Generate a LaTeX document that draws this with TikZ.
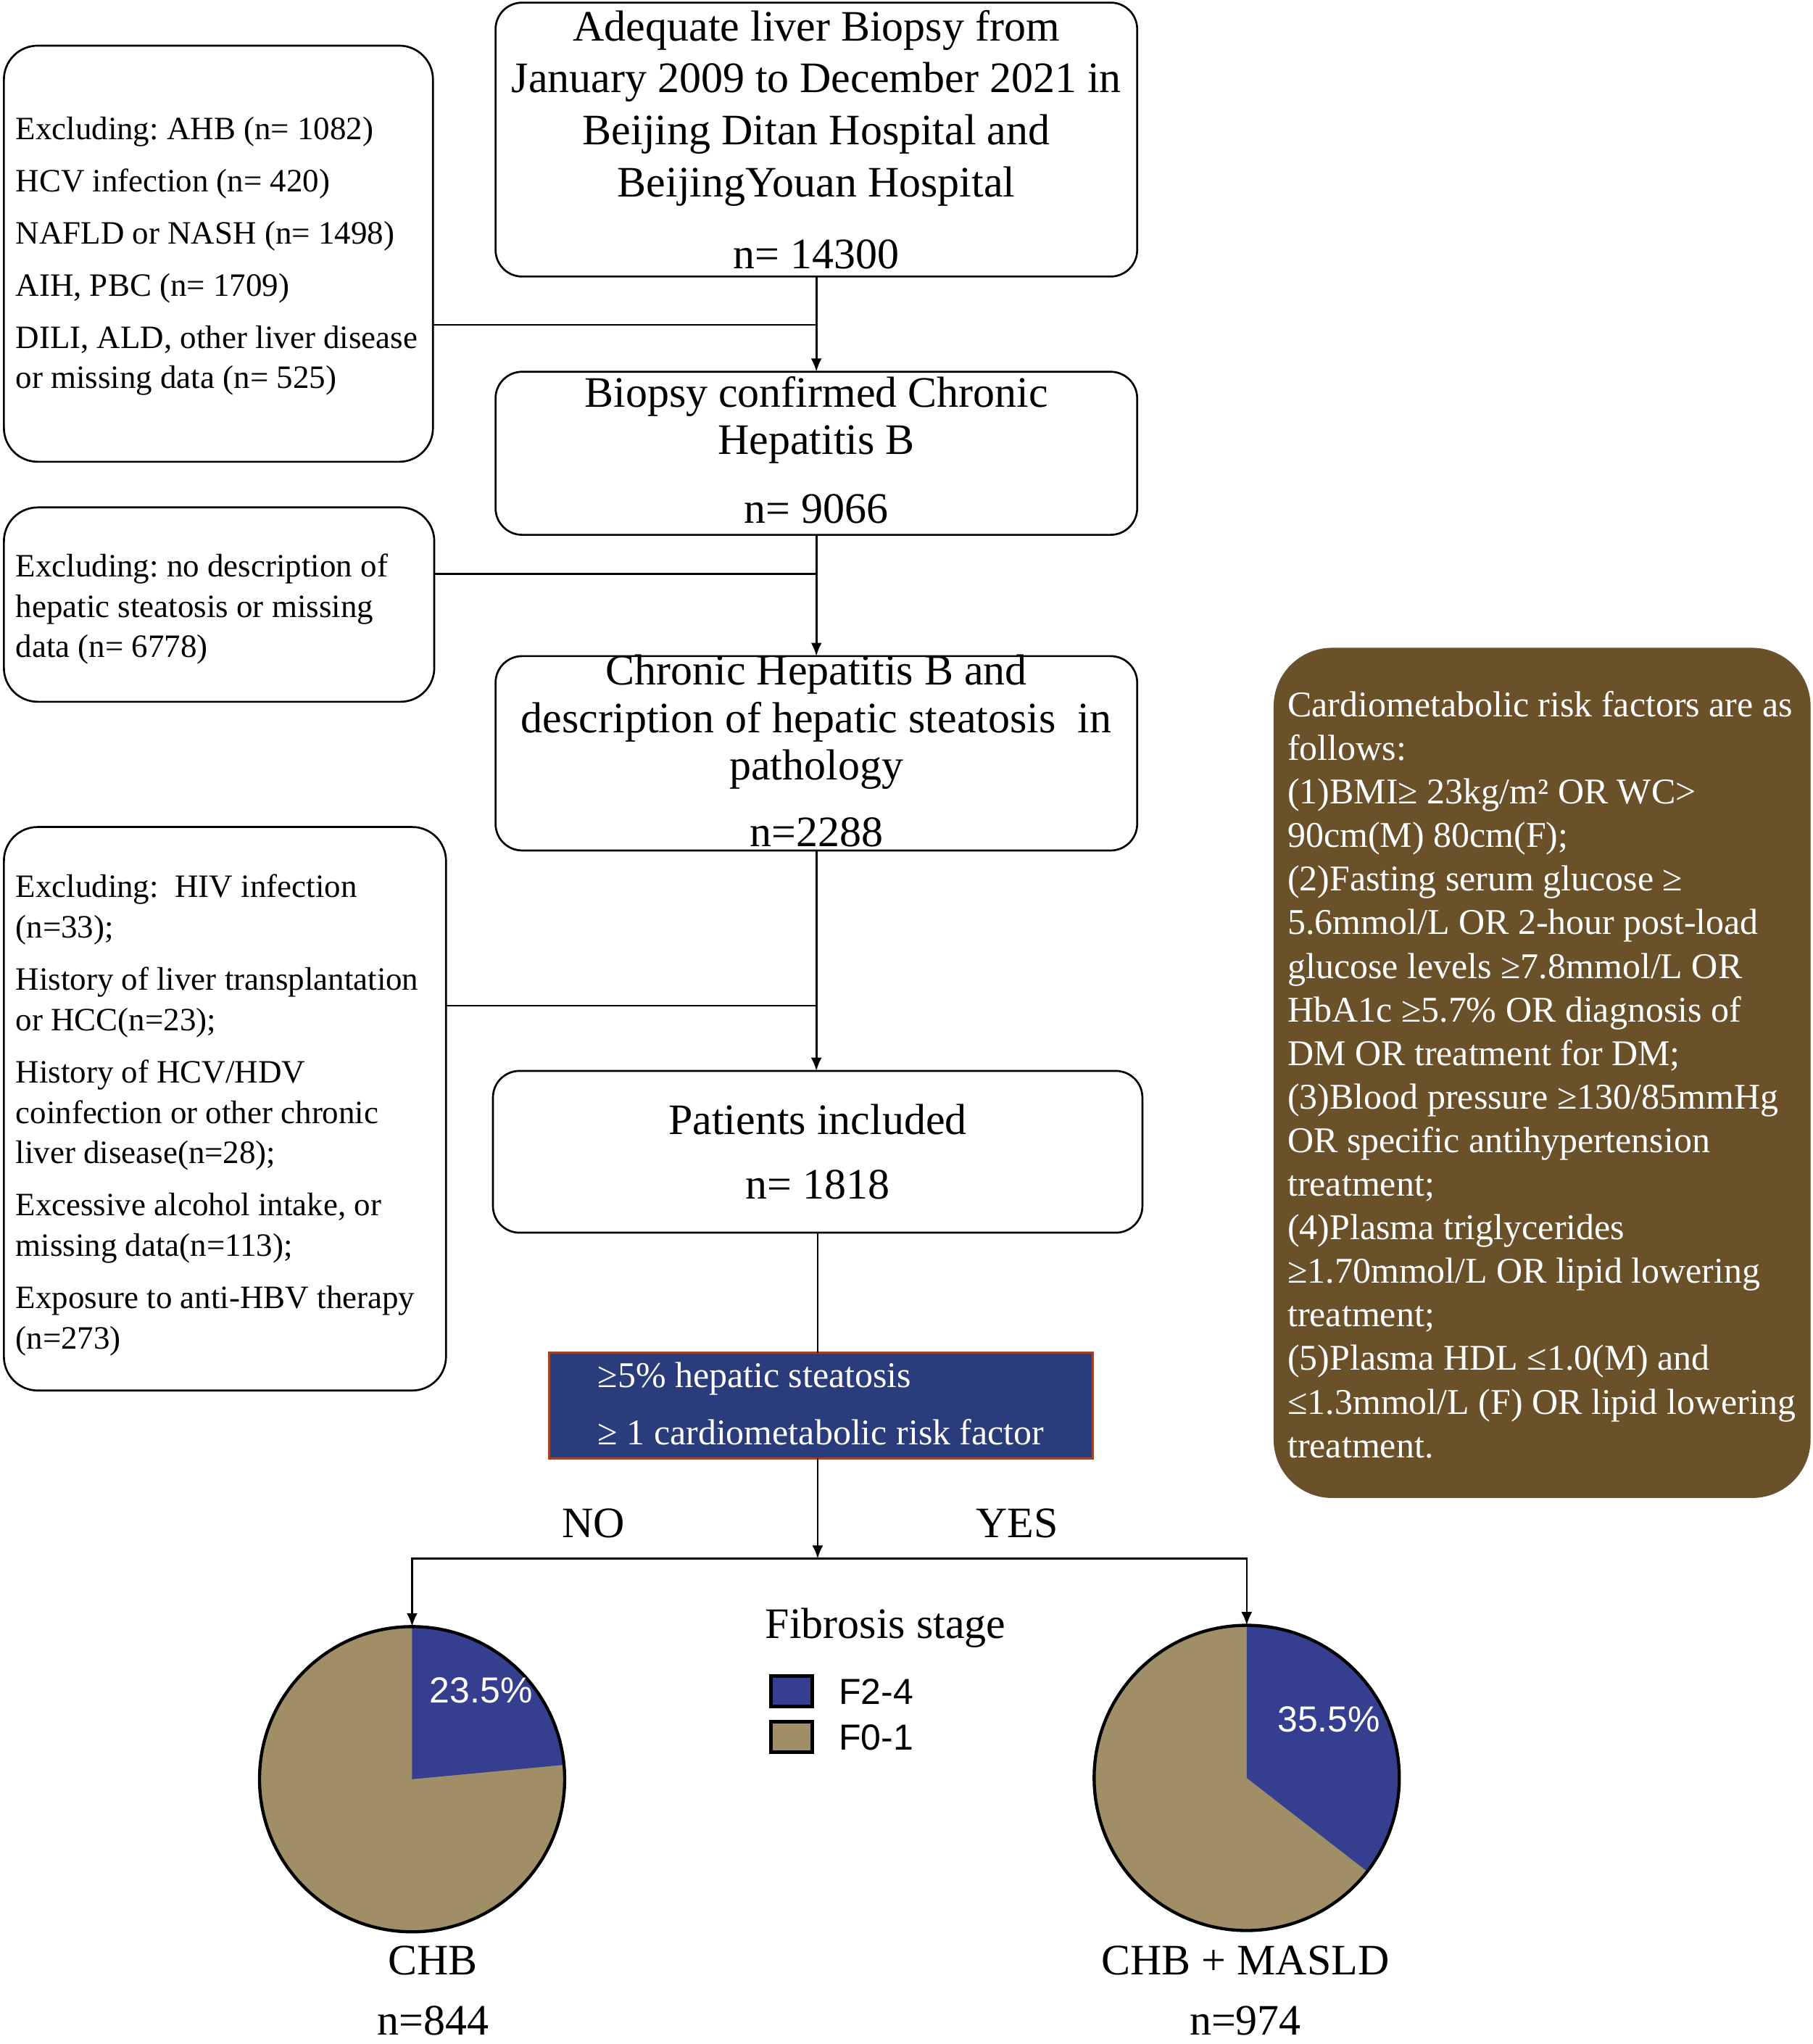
\documentclass[tikz,border=0pt]{standalone}
\usepackage{fontspec}
\setmainfont{Liberation Serif}
\newfontfamily\sansf{Liberation Sans}
\usetikzlibrary{arrows.meta}
\definecolor{boxblue}{HTML}{2B3C7C}
\definecolor{pieblue}{HTML}{363F8F}
\definecolor{pietan}{HTML}{A08F66}
\definecolor{brownbox}{HTML}{6B5129}
\definecolor{redborder}{HTML}{A0442A}
\frenchspacing
\begin{document}
\begin{tikzpicture}[x=0.54pt,y=-0.54pt,
  box/.style={draw, line width=0.8pt, rounded corners=11pt, inner sep=0pt, outer sep=0pt},
  lbox/.style={draw, line width=0.8pt, rounded corners=14pt, inner sep=0pt, outer sep=0pt},
  conn/.style={line width=0.8pt},
  arr/.style={line width=0.8pt, -{Latex[length=5.5pt,width=4.5pt]}},
  big/.style={inner sep=0pt, outer sep=0pt, align=center, font=\fontsize{18}{21.6}\selectfont},
  small/.style={inner sep=0pt, outer sep=0pt, align=left, anchor=north west, font=\fontsize{13.5}{16.74}\selectfont},
  pietxt/.style={inner sep=0pt, text=white, font=\sansf\fontsize{15}{18}\selectfont},
  legbox/.style={draw, line width=1.5pt, minimum width=17.28pt, minimum height=12.42pt, inner sep=0pt},
  legtxt/.style={inner sep=0pt, anchor=west, font=\sansf\fontsize{15}{18}\selectfont},
  pienode/.style={circle, minimum size=126.36pt, inner sep=0pt, outer sep=0pt}
]
\useasboundingbox (0,0) rectangle (1390,1567);
\fill[white] (0,0) rectangle (1390,1567);

% main boxes
\node[box, minimum width=265.68pt, minimum height=113.4pt] (b1) at (626,107) {};
\node[box, minimum width=265.68pt, minimum height=67.5pt] (b2) at (626,347.5) {};
\node[box, minimum width=265.68pt, minimum height=80.46pt] (b3) at (626,577.5) {};
\node[box, minimum width=268.92pt, minimum height=66.96pt] (b4) at (627,883) {};
\node[draw=redborder, fill=boxblue, line width=0.8pt, inner sep=0pt, outer sep=0pt,
      minimum width=225.18pt, minimum height=43.74pt] (bb) at (629.5,1077.5) {};

% left boxes
\node[lbox, minimum width=177.66pt, minimum height=172.26pt] (l1) at (167.5,194.5) {};
\node[lbox, minimum width=178.2pt, minimum height=80.46pt] (l2) at (168,463.5) {};
\node[lbox, minimum width=183.06pt, minimum height=233.28pt] (l3) at (172.5,850) {};

% brown box
\node[draw=brownbox, fill=brownbox, rounded corners=24pt, inner sep=0pt, outer sep=0pt,
      minimum width=221.94pt, minimum height=351.54pt] (br) at (1182.5,822.5) {};

% main texts
\node[big, font=\fontsize{18}{21.6}\selectfont] (t1) at (626,83) {Adequate liver Biopsy from\\January 2009 to December 2021 in\\Beijing Ditan Hospital and\\BeijingYouan Hospital};
\node[big] (n1) at (626,195) {n= 14300};
\node[big, font=\fontsize{18}{19.44}\selectfont] (t2) at (626,322) {Biopsy confirmed Chronic\\Hepatitis B};
\node[big] (n2) at (626,390) {n= 9066};
\node[big, font=\fontsize{18}{19.7}\selectfont] (t3) at (626,553.5) {Chronic Hepatitis B and\\description of hepatic steatosis~~in\\pathology};
\node[big] (n3) at (626,638) {n=2288};
\node[big] (t4) at (627,858) {Patients included};
\node[big] (n4) at (627,908) {n= 1818};

% blue box text
\node[inner sep=0pt, anchor=west, text=white, font=\fontsize{15}{18}\selectfont] (bt1) at (458,1057) {≥5\% hepatic steatosis};
\node[inner sep=0pt, anchor=west, text=white, font=\fontsize{15}{18}\selectfont] (bt2) at (458,1098) {≥ 1 cardiometabolic risk factor};

% left texts
\node[small] (lt1) at (12,89.5) {Excluding: AHB (n= 1082)\\[4.86pt]HCV infection (n= 420)\\[4.86pt]NAFLD or NASH (n= 1498)\\[4.86pt]AIH, PBC (n= 1709)\\[4.86pt]DILI, ALD, other liver disease\\or missing data (n= 525)};
\node[small] (lt2) at (12,424.5) {Excluding: no description of\\hepatic steatosis or missing\\data (n= 6778)};
\node[small] (lt3) at (12,670.5) {Excluding:~~HIV infection\\(n=33);\\[4.86pt]History of liver transplantation\\or HCC(n=23);\\[4.86pt]History of HCV/HDV\\coinfection or other chronic\\liver disease(n=28);\\[4.86pt]Excessive alcohol intake, or\\missing data(n=113);\\[4.86pt]Exposure to anti-HBV therapy\\(n=273)};

% brown text
\node[inner sep=0pt, anchor=north west, align=left, text=white, font=\fontsize{15}{18.04}\selectfont] (brt) at (987,529.5) {Cardiometabolic risk factors are as\\follows:\\(1)BMI≥ 23kg/m² OR WC>\\90cm(M) 80cm(F);\\(2)Fasting serum glucose ≥\\5.6mmol/L OR 2-hour post-load\\glucose levels ≥7.8mmol/L OR\\HbA1c ≥5.7\% OR diagnosis of\\DM OR treatment for DM;\\(3)Blood pressure ≥130/85mmHg\\OR specific antihypertension\\treatment;\\(4)Plasma triglycerides\\≥1.70mmol/L OR lipid lowering\\treatment;\\(5)Plasma HDL ≤1.0(M) and\\≤1.3mmol/L (F) OR lipid lowering\\treatment.};

% connectors
\coordinate (j1) at (626,249);
\coordinate (j2) at (626,440);
\coordinate (j3) at (626,771);
\coordinate (split) at (627,1195);
\draw[conn] (l1.east |- j1) -- (j1);
\draw[arr] (b1.south) -- (b2.north);
\draw[conn] (l2.east |- j2) -- (j2);
\draw[arr] (b2.south) -- (b3.north);
\draw[conn] (l3.east |- j3) -- (j3);
\draw[arr] (b3.south) -- (b3.south |- b4.north);
\draw[conn] (b4.south) -- (b4.south |- bb.north);
\draw[arr] (bb.south -| split) -- (split);

% pies
\node[pienode] (pieL) at (316,1364) {};
\node[pienode] (pieR) at (956,1363) {};
\draw[arr] (split) -| (pieL.north);
\draw[arr] (split) -| (pieR.north);

\fill[pietan] (pieL.center) circle[radius=117];
\fill[pieblue] (pieL.center) -- ++(0,-117) arc[start angle=-90, end angle=-5.4, radius=117] -- cycle;
\draw[line width=1.3pt] (pieL.center) circle[radius=117];
\fill[pietan] (pieR.center) circle[radius=117];
\fill[pieblue] (pieR.center) -- ++(0,-117) arc[start angle=-90, end angle=37.8, radius=117] -- cycle;
\draw[line width=1.3pt] (pieR.center) circle[radius=117];

\node[pietxt] (p1) at (369,1296) {23.5\%};
\node[pietxt] (p2) at (1019,1318) {35.5\%};

% labels
\node[big] (no) at (455,1168) {NO};
\node[big] (yes) at (780,1168) {YES};
\node[big] (fs) at (679,1248) {Fibrosis stage};
\node[legbox, fill=pieblue] (lg1) at (607,1296.5) {};
\node[legbox, fill=pietan] (lg2) at (607,1331.5) {};
\node[legtxt] (lgt1) at (643,1297) {F2-4};
\node[legtxt] (lgt2) at (643,1332) {F0-1};

\node[big] (c1) at (332,1503) {CHB};
\node[big] (c1n) at (332,1549) {n=844};
\node[big] (c2) at (955,1503) {CHB + MASLD};
\node[big] (c2n) at (955,1549) {n=974};
\end{tikzpicture}
\end{document}
